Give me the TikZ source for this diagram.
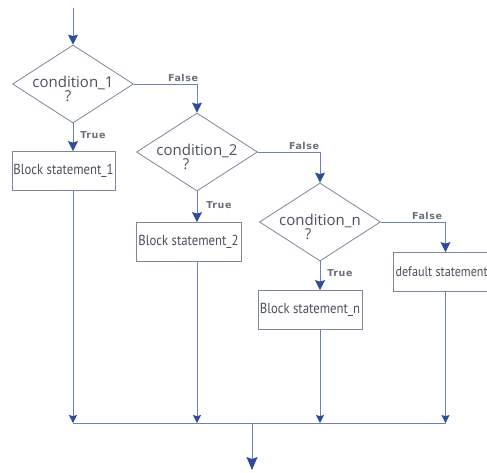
\documentclass[tikz,border=0pt]{standalone}
\usepackage{fontspec}
\setmainfont{Open Sans}
\newfontfamily\blockfont[FakeStretch=0.88]{PT Sans}
\newfontfamily\condfont{Open Sans}
\newfontfamily\tagfont[LetterSpace=6]{DejaVu Sans}
\usetikzlibrary{shapes.geometric,arrows.meta}
\definecolor{linecol}{RGB}{110,130,175}
\definecolor{tipcol}{RGB}{45,75,155}
\definecolor{boxcol}{RGB}{125,135,155}
\definecolor{txtcol}{RGB}{75,80,92}
\definecolor{tagcol}{RGB}{105,110,120}
\tikzset{
  conn/.style={draw=linecol, line width=0.9pt,
    -{Stealth[length=10pt,width=10pt,inset=1.5pt,color=tipcol,fill=tipcol]}},
  mergeconn/.style={draw=linecol, line width=0.9pt,
    -{Stealth[length=8pt,width=8pt,inset=1.2pt,color=tipcol,fill=tipcol]}},
  outconn/.style={draw=linecol, line width=0.9pt,
    -{Stealth[length=13pt,width=11pt,inset=2pt,color=tipcol,fill=tipcol]}},
  plain/.style={draw=linecol, line width=0.9pt},
  decision/.style={diamond, draw=boxcol, line width=0.8pt, fill=white,
    minimum width=121pt, minimum height=78pt, inner sep=0pt, aspect=1.55},
  condtext/.style={font=\condfont\fontsize{15}{14}\selectfont, text=txtcol,
    align=center, inner sep=0pt},
  blockbox/.style={rectangle, draw=boxcol, line width=0.8pt, fill=white,
    minimum height=39pt, inner sep=0pt,
    font=\blockfont\fontsize{14.5}{16}\selectfont, text=txtcol},
  tag/.style={font=\tagfont\bfseries\fontsize{9.5}{10}\selectfont, text=tagcol, inner sep=0pt},
}
\begin{document}
\begin{tikzpicture}[x=1pt,y=-1pt]
\useasboundingbox (0,0) rectangle (487,472);
\clip (0,0) rectangle (487,472);

% decisions
\node[decision] (d1) at (73,84) {};
\node[condtext] (t1) at (73,89) {condition\_1\\\hspace*{-10pt}?};
\node[decision] (d2) at (197,152) {};
\node[condtext] (t2) at (197,157) {condition\_2\\\hspace*{-22pt}?};
\node[decision] (dn) at (320,222) {};
\node[condtext] (tn) at (320,227) {condition\_n\\\hspace*{-24pt}?};

% statement blocks
\node[blockbox, minimum width=103pt] (b1) at (63.5,171) {Block statement\_1};
\node[blockbox, minimum width=105pt] (b2) at (188.5,242) {Block statement\_2};
\node[blockbox, minimum width=104pt] (bn) at (310,310) {Block statement\_n};
\node[blockbox, minimum width=105pt, font=\blockfont\fontsize{13.8}{16}\selectfont]
  (bd) at (445.5,272) {\makebox[100pt][l]{default statement}};

% entry, merge and exit points
\coordinate (start) at (73,8);
\coordinate (m1) at (73,423);
\coordinate (m2) at (197,423);
\coordinate (m3) at (320,423);
\coordinate (m4) at (445.5,423);
\coordinate (join) at (252,423);
\coordinate (exit) at (252,470);

% flow
\draw[conn] (start) -- (d1.north);
\draw[conn] (d1.east) -| (d2.north);
\draw[conn] (d2.east) -| (dn.north);
\draw[conn] (dn.east) -| (bd.north);
\draw[conn] (d1.south) -- (d1.south |- b1.north);
\draw[conn] (d2.south) -- (d2.south |- b2.north);
\draw[conn] (dn.south) -- (dn.south |- bn.north);

\draw[mergeconn] (d1.south |- b1.south) -- (m1);
\draw[mergeconn] (d2.south |- b2.south) -- (m2);
\draw[mergeconn] (dn.south |- bn.south) -- (m3);
\draw[mergeconn] (bd.south) -- (m4);
\draw[plain] (m1) -- (m4);
\draw[outconn] (join) -- (exit);

% branch labels
\node[tag] (f1) at (183,78) {False};
\node[tag] (tr1) at (93,135) {True};
\node[tag] (f2) at (304,146) {False};
\node[tag] (tr2) at (219,205) {True};
\node[tag] (fn) at (427,216) {False};
\node[tag] (trn) at (340,273) {True};
\end{tikzpicture}
\end{document}
